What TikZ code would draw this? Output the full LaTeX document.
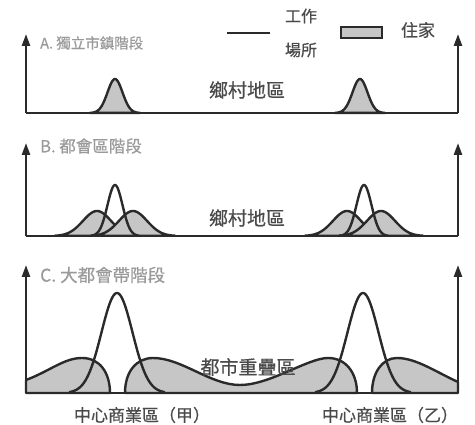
\documentclass[tikz,border=0pt]{standalone}
\usepackage{fontspec}
\setmainfont{Noto Sans CJK TC}
\newfontfamily\semibold[FakeBold=0.6]{Noto Sans CJK TC}
\usetikzlibrary{arrows.meta}
\definecolor{ink}{HTML}{2A2A2A}
\definecolor{home}{HTML}{C6C6C6}
\definecolor{lbl}{HTML}{9A9A9A}
\definecolor{txt}{HTML}{4A4A4A}
\tikzset{
  axis/.style={ink, line width=2.5pt, -{Triangle[length=12pt,width=8pt]}},
  base/.style={ink, line width=2.5pt},
  curve/.style={ink, line width=2.4pt, line join=round},
  stage/.style={anchor=west, text=lbl, inner sep=0pt},
  area/.style={text=txt, inner sep=0pt},
}
\begin{document}
\begin{tikzpicture}[x=1pt,y=1pt]
\useasboundingbox (0,0) rectangle (475,425);
% ---------- Panel A (baseline 312) ----------
\begin{scope}[shift={(0,312)}]
  \coordinate (aL) at (26,0); \coordinate (aR) at (458,0);
  \coordinate (aLt) at (26,79); \coordinate (aRt) at (458,79);
  \foreach \c in {115,360}{
    \filldraw[curve, fill=home] plot[domain=\c-25:\c+25, samples=60] (\x,{34*exp(-((\x-\c)^2)/(2*7.5^2))}) -- cycle;
  }
  \draw[base] (aL) -- (aR);
  \draw[axis] (aL) -- (aLt);
  \draw[axis] (aR) -- (aRt);
  \node[stage, font=\semibold\fontsize{14.5}{16}\selectfont] (la) at (40,70) {A. 獨立市鎮階段};
  \node[area, font=\semibold\fontsize{19}{21}\selectfont] (ra) at (247,23) {鄉村地區};
  % legend
  \coordinate (lg1) at (227,80); \coordinate (lg2) at (270,80);
  \draw[curve] (lg1) -- (lg2);
  \node[area, font=\semibold\fontsize{16}{18}\selectfont] (w1) at (301,97) {工作};
  \node[area, font=\semibold\fontsize{16}{18}\selectfont] (w2) at (301,63) {場所};
  \node[draw=ink, line width=2pt, fill=home, minimum width=41pt, minimum height=11pt, inner sep=0pt] (hb) at (361,80) {};
  \node[area, font=\semibold\fontsize{17}{19}\selectfont] (hl) at (418,83) {住家};
\end{scope}
% ---------- Panel B (baseline 189) ----------
\begin{scope}[shift={(0,189)}]
  \coordinate (bL) at (26,0); \coordinate (bR) at (458,0);
  \coordinate (bLt) at (26,93); \coordinate (bRt) at (458,93);
  \foreach \c in {97,133,347,381}{
    \filldraw[curve, fill=home] plot[domain=\c-42:\c+42, samples=70] (\x,{25*exp(-((\x-\c)^2)/(2*14^2))}) -- cycle;
  }
  \foreach \c in {115,364}{
    \draw[curve] plot[domain=\c-24:\c+24, samples=60] (\x,{51*exp(-((\x-\c)^2)/(2*7.5^2))});
  }
  \draw[base] (bL) -- (bR);
  \draw[axis] (bL) -- (bLt);
  \draw[axis] (bR) -- (bRt);
  \node[stage, font=\semibold\fontsize{16.5}{18}\selectfont] (lb) at (40,90) {B. 都會區階段};
  \node[area, font=\semibold\fontsize{19}{21}\selectfont] (rb) at (247,18) {鄉村地區};
\end{scope}
% ---------- Panel C (baseline 32) ----------
\begin{scope}[shift={(0,32)}]
  \coordinate (cL) at (26,0); \coordinate (cR) at (458,0);
  \coordinate (cLt) at (26,128); \coordinate (cRt) at (458,128);
  \filldraw[curve, fill=home] (26,13) .. controls (50,22) and (64,35) .. (82,35)
     .. controls (100,35) and (110,20) .. (110,0) -- (26,0) -- cycle;
  \filldraw[curve, fill=home] (125,0) .. controls (125,22) and (137,35) .. (153,35)
     .. controls (182,35) and (210,8) .. (240,8)
     .. controls (270,8) and (308,35) .. (328,35)
     .. controls (346,35) and (357,20) .. (357,0) -- cycle;
  \filldraw[curve, fill=home] (372,0) .. controls (372,20) and (382,35) .. (397,35)
     .. controls (416,35) and (436,21) .. (458,11) -- (458,0) -- cycle;
  \foreach \c in {117,363}{
    \draw[curve] plot[domain=\c-48:\c+48, samples=80] (\x,{100*exp(-((\x-\c)^2)/(2*15.5^2))});
  }
  \draw[base] (cL) -- (cR);
  \draw[axis] (cL) -- (cLt);
  \draw[axis] (cR) -- (cRt);
  \node[stage, font=\semibold\fontsize{17.5}{19}\selectfont] (lc) at (40,118) {C. 大都會帶階段};
  \node[area, font=\semibold\fontsize{19}{21}\selectfont] (rc) at (248,26) {都市重疊區};
  \node[area, font=\semibold\fontsize{17}{19}\selectfont] (ca) at (142,-22) {中心商業區（甲）};
  \node[area, font=\semibold\fontsize{17}{19}\selectfont] (cb) at (390,-22) {中心商業區（乙）};
\end{scope}
\end{tikzpicture}
\end{document}
